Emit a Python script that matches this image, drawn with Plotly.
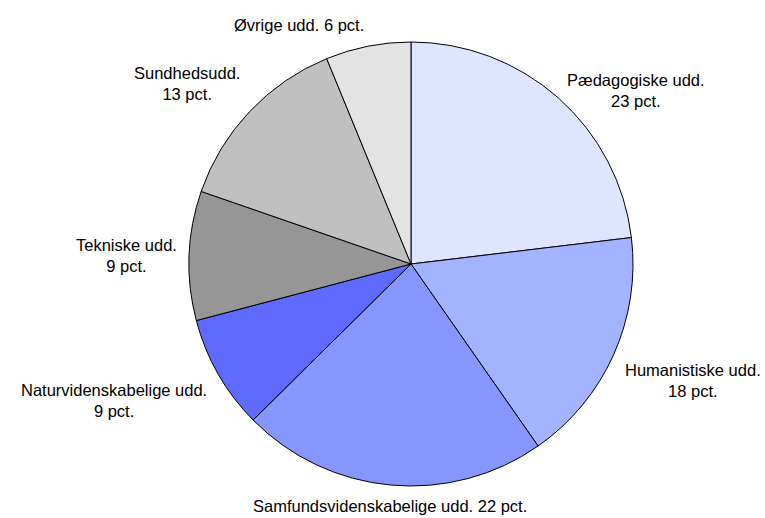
import math
import plotly.graph_objects as go

categories = ["Pædagogiske udd.", "Humanistiske udd.", "Samfundsvidenskabelige udd.",
              "Naturvidenskabelige udd.", "Tekniske udd.", "Sundhedsudd.", "Øvrige udd."]
values = [23.1, 17.2, 22.3, 8.3, 9.4, 13.5, 6.2]
pct_labels = ["23 pct.", "18 pct.", "22 pct.", "9 pct.", "9 pct.", "13 pct.", "6 pct."]
label_sep = ["<br>", "<br>", " ", "<br>", "<br>", "<br>", " "]
colors = ["#DDE5FF", "#A3B3FF", "#8796FF", "#5F6AFF", "#969696", "#C0C0C0", "#E3E3E3"]

W, H = 765, 518
CX, CY, R = 411, 264, 222  # pixel centre (from figure top-left) and radius
GAP = 10
FONT = "Liberation Sans, Arial, sans-serif"

fig = go.Figure(go.Pie(
    labels=categories,
    values=values,
    sort=False,
    direction="clockwise",
    rotation=0,
    marker=dict(colors=colors, line=dict(color="#000000", width=1)),
    textinfo="none",
    hoverinfo="label+percent",
    showlegend=False,
    domain=dict(x=[(CX - R) / W, (CX + R) / W],
                y=[(H - CY - R) / H, (H - CY + R) / H]),
))

total = sum(values)
cum = 0.0
annotations = []
for cat, v, p, sep in zip(categories, values, pct_labels, label_sep):
    mid = (cum + v / 2) / total * 2 * math.pi
    cum += v
    s, c = math.sin(mid), math.cos(mid)
    r = R + GAP
    px = CX + r * s
    py = CY - r * c
    xa = "left" if s > 0.15 else ("right" if s < -0.15 else "center")
    if abs(s) > 0.5:
        ya = "bottom" if 0.3 < c < 0.72 else ("top" if -0.72 < c < -0.3 else "middle")
    else:
        ya = "bottom" if c > 0 else "top"
    annotations.append(dict(
        x=px / W, y=1 - py / H, xref="paper", yref="paper",
        text=cat + sep + p, showarrow=False, xanchor=xa, yanchor=ya,
        align="center", font=dict(family=FONT, size=16.5, color="#000000"),
    ))

fig.update_layout(
    width=W, height=H,
    margin=dict(l=0, r=0, t=0, b=0),
    paper_bgcolor="#FFFFFF", plot_bgcolor="#FFFFFF",
    annotations=annotations,
)

fig.write_html(
    "out.html",
    config={"displayModeBar": False},
    post_script="document.body.style.margin='0';document.body.style.overflow='hidden';",
)
